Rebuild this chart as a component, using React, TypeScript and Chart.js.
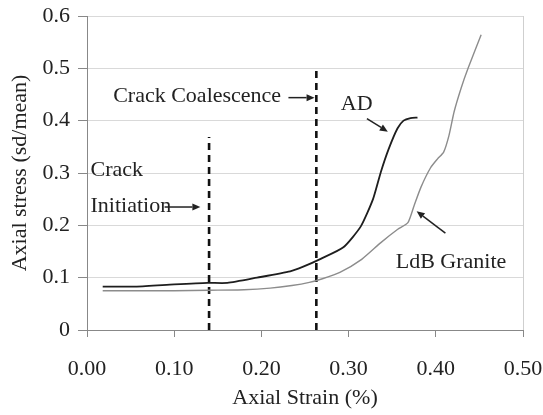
import React, { useEffect, useRef } from 'react';
import { Chart, registerables } from 'chart.js';

Chart.register(...registerables);

// ---- Data ----
const adStrain = [0.018, 0.057, 0.10, 0.138, 0.161, 0.195, 0.233, 0.248, 0.268, 0.294, 0.314, 0.328, 0.337, 0.346, 0.356, 0.363, 0.371, 0.379];
const adStress = [0.083, 0.083, 0.087, 0.090, 0.090, 0.100, 0.112, 0.121, 0.136, 0.158, 0.198, 0.250, 0.302, 0.346, 0.385, 0.400, 0.405, 0.406];

const ldbStrain = [0.018, 0.06, 0.10, 0.14, 0.18, 0.21, 0.235, 0.255, 0.27, 0.29, 0.315, 0.337, 0.356, 0.368, 0.375, 0.383, 0.394, 0.402, 0.409, 0.415, 0.421, 0.429, 0.437, 0.452];
const ldbStress = [0.075, 0.075, 0.075, 0.076, 0.077, 0.080, 0.085, 0.091, 0.098, 0.110, 0.135, 0.167, 0.192, 0.205, 0.237, 0.273, 0.310, 0.327, 0.340, 0.371, 0.417, 0.462, 0.500, 0.564];

const crackInitiationLine = { strain: [0.14, 0.14], stress: [0, 0.369] };
const crackCoalescenceLine = { strain: [0.263, 0.263], stress: [0, 0.5] };

const xTickValues = [0, 0.1, 0.2, 0.3, 0.4, 0.5];
const yTickValues = [0, 0.1, 0.2, 0.3, 0.4, 0.5, 0.6];

const xTitle = 'Axial Strain (%)';
const yTitle = 'Axial stress (sd/mean)';

// annotation labels (data coordinates of text baseline-left)
const labelTexts = ['Crack', 'Initiation', 'Crack Coalescence', 'AD', 'LdB Granite'];
const labelStrain = [0.004, 0.004, 0.030, 0.291, 0.354];
const labelStress = [0.294, 0.225, 0.4365, 0.421, 0.119];

// annotation arrows (data coordinates, from -> to)
const arrowFromStrain = [0.089, 0.231, 0.321, 0.411];
const arrowFromStress = [0.235, 0.444, 0.404, 0.185];
const arrowToStrain = [0.130, 0.261, 0.345, 0.378];
const arrowToStress = [0.235, 0.444, 0.379, 0.227];

const FONT_FAMILY = '"Liberation Serif", "Times New Roman", Times, serif';

const annotationPlugin = {
  id: 'textAnnotations',
  afterDatasetsDraw(chart: any) {
    const { ctx, scales } = chart;
    const xs = scales.x;
    const ys = scales.y;
    ctx.save();
    ctx.fillStyle = '#222';
    ctx.strokeStyle = '#222';
    ctx.font = `22px ${FONT_FAMILY}`;
    ctx.textAlign = 'left';
    ctx.textBaseline = 'alphabetic';
    labelTexts.forEach((t, i) => {
      ctx.fillText(t, xs.getPixelForValue(labelStrain[i]), ys.getPixelForValue(labelStress[i]));
    });
    ctx.lineWidth = 1.5;
    arrowFromStrain.forEach((_, i) => {
      const x1 = xs.getPixelForValue(arrowFromStrain[i]);
      const y1 = ys.getPixelForValue(arrowFromStress[i]);
      const x2 = xs.getPixelForValue(arrowToStrain[i]);
      const y2 = ys.getPixelForValue(arrowToStress[i]);
      const ang = Math.atan2(y2 - y1, x2 - x1);
      const head = 8;
      const hw = 3.5;
      const bx = x2 - head * Math.cos(ang);
      const by = y2 - head * Math.sin(ang);
      ctx.beginPath();
      ctx.moveTo(x1, y1);
      ctx.lineTo(bx, by);
      ctx.stroke();
      ctx.beginPath();
      ctx.moveTo(x2, y2);
      ctx.lineTo(bx + hw * Math.sin(ang), by - hw * Math.cos(ang));
      ctx.lineTo(bx - hw * Math.sin(ang), by + hw * Math.cos(ang));
      ctx.closePath();
      ctx.fill();
    });
    ctx.restore();
  },
};

const toPoints = (xs: number[], ys: number[]) => xs.map((x, i) => ({ x, y: ys[i] }));

export default function App() {
  const canvasRef = useRef<HTMLCanvasElement | null>(null);

  useEffect(() => {
    if (!canvasRef.current) return;
    const chart = new Chart(canvasRef.current, {
      type: 'line',
      data: {
        datasets: [
          {
            label: 'AD',
            data: toPoints(adStrain, adStress),
            borderColor: '#1e1e1e',
            borderWidth: 1.8,
            pointRadius: 0,
            tension: 0.2,
            fill: false,
          },
          {
            label: 'LdB Granite',
            data: toPoints(ldbStrain, ldbStress),
            borderColor: '#8c8c8c',
            borderWidth: 1.4,
            pointRadius: 0,
            tension: 0.2,
            fill: false,
          },
          {
            label: 'Crack Initiation',
            data: toPoints(crackInitiationLine.strain, crackInitiationLine.stress),
            borderColor: '#111',
            borderWidth: 2.6,
            borderDash: [7, 5],
            pointRadius: 0,
            fill: false,
          },
          {
            label: 'Crack Coalescence',
            data: toPoints(crackCoalescenceLine.strain, crackCoalescenceLine.stress),
            borderColor: '#111',
            borderWidth: 2.6,
            borderDash: [7, 5],
            pointRadius: 0,
            fill: false,
          },
        ],
      },
      options: {
        responsive: false,
        animation: false,
        layout: { padding: { top: 16, right: 20, left: 0, bottom: 0 } },
        plugins: {
          legend: { display: false },
          tooltip: { enabled: false },
        },
        scales: {
          x: {
            type: 'linear',
            min: 0,
            max: 0.5,
            afterBuildTicks: (scale: any) => {
              scale.ticks = xTickValues.map((v) => ({ value: v }));
            },
            afterFit: (scale: any) => {
              scale.height = 85;
              scale.paddingLeft = 0;
              scale.paddingRight = 0;
            },
            ticks: {
              font: { family: FONT_FAMILY, size: 22 },
              color: '#222',
              padding: 19,
              maxRotation: 0,
              callback: (v: any) => Number(v).toFixed(2),
            },
            grid: {
              color: (c: any) => (c.tick && Math.abs(c.tick.value - 0.5) < 1e-9 ? '#cfcfcf' : 'rgba(0,0,0,0)'),
              tickColor: '#888',
              tickLength: 7,
              lineWidth: 1,
            },
            border: { color: '#888', width: 1 },
            title: {
              display: true,
              text: xTitle,
              font: { family: FONT_FAMILY, size: 22 },
              color: '#222',
              padding: { top: 0, bottom: 4 },
            },
          },
          y: {
            type: 'linear',
            min: 0,
            max: 0.6,
            afterBuildTicks: (scale: any) => {
              scale.ticks = yTickValues.map((v) => ({ value: v }));
            },
            afterFit: (scale: any) => {
              scale.width = 87;
              scale.paddingTop = 0;
              scale.paddingBottom = 0;
            },
            ticks: {
              font: { family: FONT_FAMILY, size: 22 },
              color: '#222',
              padding: 8,
              callback: (v: any) => (Number(v) === 0 ? '0' : Number(v).toFixed(1)),
            },
            grid: {
              color: '#d9d9d9',
              tickColor: '#888',
              tickLength: 9,
              lineWidth: 1,
            },
            border: { color: '#888', width: 1 },
            title: {
              display: true,
              text: yTitle,
              font: { family: FONT_FAMILY, size: 22 },
              color: '#222',
              padding: { top: 7, bottom: 0 },
            },
          },
        },
      },
      plugins: [annotationPlugin],
    } as any);
    return () => chart.destroy();
  }, []);

  return (
    <div style={{ position: 'absolute', left: 0, top: 0, width: 543, height: 415, background: '#fff' }}>
      <canvas ref={canvasRef} width={543} height={415} />
    </div>
  );
}
